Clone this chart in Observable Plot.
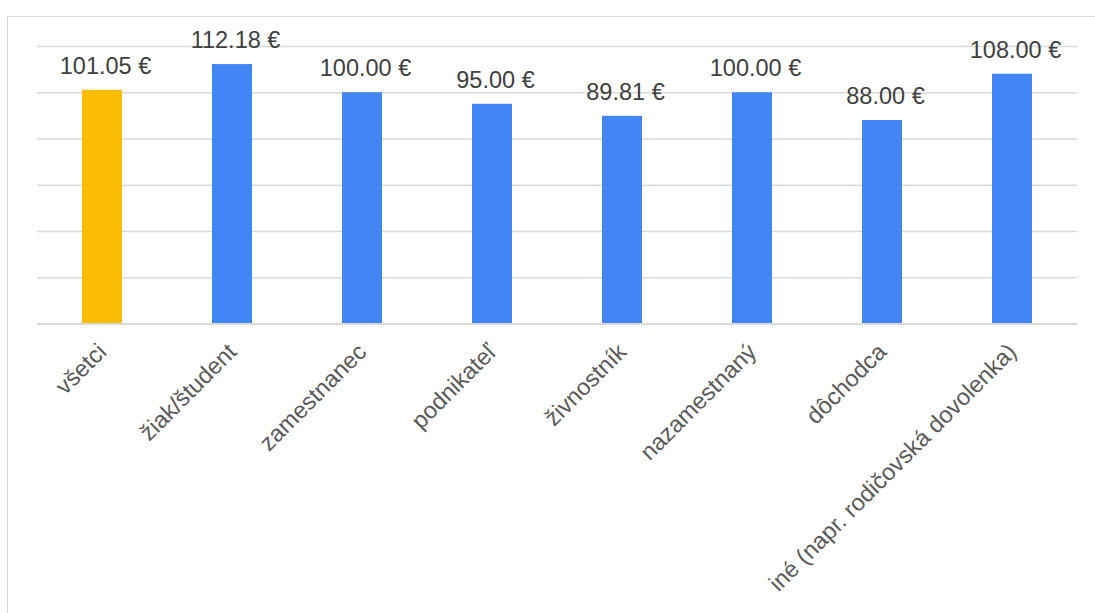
<!DOCTYPE html>
<html>
<head>
<meta charset="utf-8">
<script src="https://cdn.jsdelivr.net/npm/d3@7"></script>
<script src="https://cdn.jsdelivr.net/npm/@observablehq/plot@0.6"></script>
<style>
  html, body { margin: 0; padding: 0; background: #fff; overflow: hidden; }
  #wrap { position: relative; width: 1095px; height: 613px; }
  #border { position: absolute; left: 7px; top: 16px; width: 1200px; height: 700px; border: 1.5px solid #d9d9d9; box-sizing: border-box; }
  #chart { position: absolute; left: 0; top: 0; }
  svg { font-family: "Liberation Sans", Arial, sans-serif; }
</style>
</head>
<body>
<div id="wrap"><div id="border"></div><div id="chart"></div></div>
<script>
const categories = ["všetci", "žiak/študent", "zamestnanec", "podnikateľ", "živnostník", "nazamestnaný", "dôchodca", "iné (napr. rodičovská dovolenka)"];
const values = [101.05, 112.18, 100.00, 95.00, 89.81, 100.00, 88.00, 108.00];
const gridTicks = [0, 20, 40, 60, 80, 100, 120];

const data = categories.map((c, i) => ({category: c, value: values[i], all: i === 0}));
const fmt = v => v.toFixed(2) + " €";

const chart = Plot.plot({
  width: 1095,
  height: 613,
  marginLeft: 37,
  marginRight: 18,
  marginTop: 46,
  marginBottom: 289.5,
  style: {background: "transparent"},
  x: {domain: categories, paddingInner: 0.69, paddingOuter: 0.345, label: null},
  y: {domain: [0, 120], axis: null},
  marks: [
    Plot.ruleY(gridTicks.filter(t => t > 0), {stroke: "#d9d9d9", strokeWidth: 1.5}),
    Plot.barY(data, {x: "category", y: "value", fill: d => d.all ? "#FBBC04" : "#4285F4"}),
    Plot.ruleY([0], {stroke: "#d9d9d9", strokeWidth: 2}),
    Plot.text(data, {x: "category", y: "value", text: d => fmt(d.value), lineAnchor: "bottom", dy: -16.5, dx: 3, fontSize: 23.5, fill: "#404040"}),
    Plot.axisX({tickRotate: -45, tickSize: 0, tickPadding: 24, fontSize: 23.5, color: "#595959", label: null})
  ]
});
document.getElementById("chart").appendChild(chart);
</script>
</body>
</html>
